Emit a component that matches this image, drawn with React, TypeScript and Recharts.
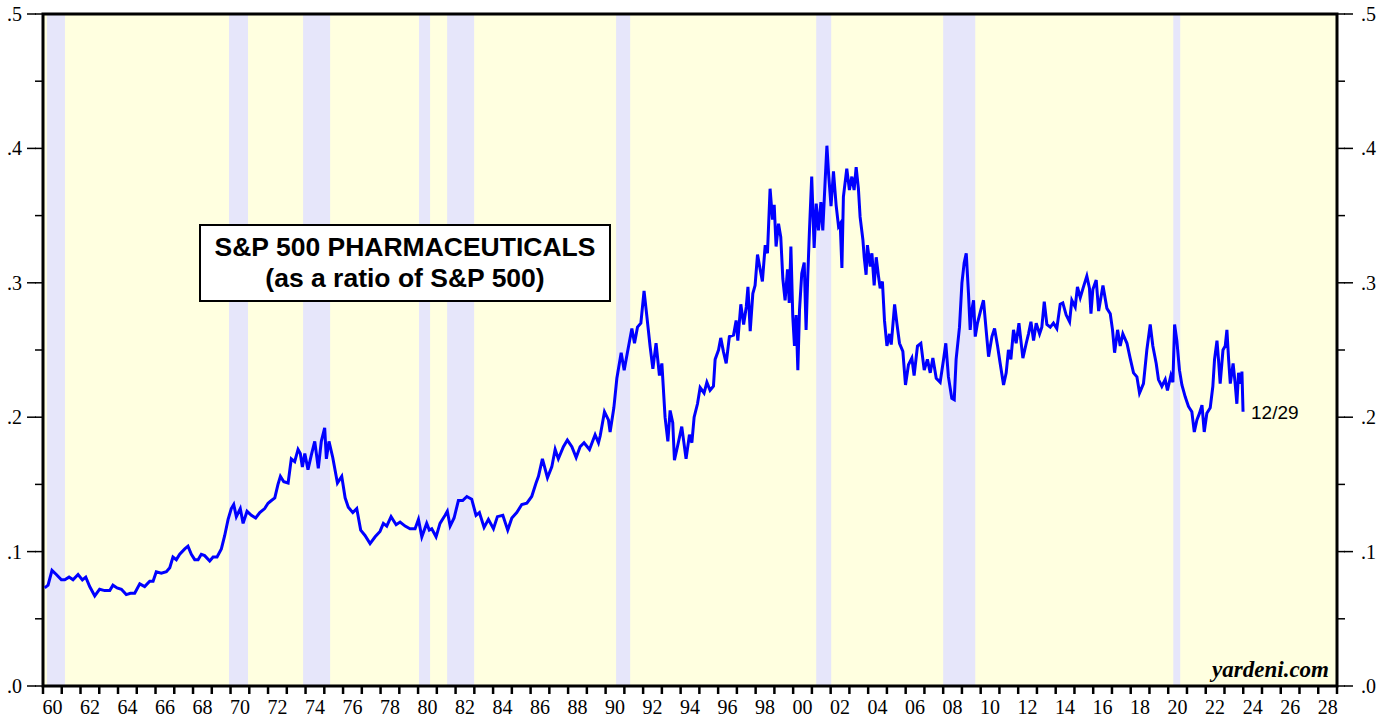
import React from 'react'
import { LineChart, Line, XAxis, YAxis, ReferenceArea, ReferenceDot } from 'recharts'

// decimal year of each reading (weekly series thinned out)
const dates = [
  1960.09, 1960.27, 1960.48, 1960.71, 1960.98, 1961.16, 1961.39, 1961.6, 1961.87, 1962.1,
  1962.28, 1962.49, 1962.76, 1963.02, 1963.29, 1963.56, 1963.73, 1963.95, 1964.18, 1964.44,
  1964.66, 1964.89, 1965.16, 1965.42, 1965.69, 1965.87, 1966.04, 1966.31, 1966.58, 1966.76,
  1966.93, 1967.11, 1967.29, 1967.56, 1967.73, 1967.91, 1968.09, 1968.27, 1968.44, 1968.62,
  1968.89, 1969.07, 1969.28, 1969.51, 1969.69, 1969.87, 1970.04, 1970.17, 1970.31, 1970.52,
  1970.67, 1970.88, 1971.11, 1971.34, 1971.56, 1971.82, 1972.0, 1972.18, 1972.36, 1972.53,
  1972.66, 1972.84, 1973.07, 1973.24, 1973.42, 1973.6, 1973.72, 1973.83, 1973.96, 1974.13,
  1974.31, 1974.49, 1974.68, 1974.84, 1975.02, 1975.11, 1975.25, 1975.45, 1975.7, 1975.93,
  1976.11, 1976.28, 1976.52, 1976.73, 1976.94, 1977.17, 1977.44, 1977.71, 1977.97, 1978.15,
  1978.33, 1978.56, 1978.83, 1979.04, 1979.31, 1979.57, 1979.84, 1980.02, 1980.2, 1980.46,
  1980.6, 1980.73, 1980.96, 1981.17, 1981.44, 1981.56, 1981.71, 1981.92, 1982.15, 1982.38,
  1982.6, 1982.86, 1983.09, 1983.27, 1983.52, 1983.75, 1984.02, 1984.23, 1984.52, 1984.78,
  1985.0, 1985.26, 1985.53, 1985.8, 1986.06, 1986.29, 1986.42, 1986.63, 1986.9, 1987.13,
  1987.31, 1987.48, 1987.75, 1987.96, 1988.2, 1988.43, 1988.64, 1988.85, 1989.14, 1989.44,
  1989.62, 1989.71, 1989.94, 1990.15, 1990.24, 1990.44, 1990.6, 1990.83, 1990.99, 1991.16,
  1991.4, 1991.54, 1991.7, 1991.88, 1992.05, 1992.2, 1992.37, 1992.52, 1992.69, 1992.87,
  1993.0, 1993.17, 1993.32, 1993.44, 1993.58, 1993.67, 1993.83, 1994.06, 1994.29, 1994.47,
  1994.6, 1994.72, 1994.9, 1995.04, 1995.25, 1995.4, 1995.57, 1995.75, 1995.84, 1996.02,
  1996.14, 1996.28, 1996.43, 1996.6, 1996.82, 1996.96, 1997.05, 1997.21, 1997.36, 1997.5,
  1997.59, 1997.71, 1997.85, 1997.97, 1998.1, 1998.24, 1998.36, 1998.51, 1998.63, 1998.77,
  1998.9, 1998.99, 1999.09, 1999.22, 1999.34, 1999.45, 1999.57, 1999.7, 1999.79, 1999.88,
  1999.98, 2000.07, 2000.16, 2000.25, 2000.34, 2000.46, 2000.59, 2000.69, 2000.78, 2000.87,
  2000.99, 2001.12, 2001.23, 2001.35, 2001.48, 2001.58, 2001.71, 2001.8, 2001.89, 2002.02,
  2002.15, 2002.29, 2002.42, 2002.51, 2002.6, 2002.68, 2002.86, 2003.0, 2003.13, 2003.25,
  2003.36, 2003.48, 2003.57, 2003.72, 2003.79, 2003.89, 2003.96, 2004.11, 2004.2, 2004.32,
  2004.43, 2004.55, 2004.64, 2004.76, 2004.87, 2005.0, 2005.14, 2005.23, 2005.41, 2005.53,
  2005.67, 2005.85, 2005.99, 2006.15, 2006.33, 2006.45, 2006.63, 2006.81, 2006.99, 2007.16,
  2007.31, 2007.45, 2007.63, 2007.84, 2008.02, 2008.14, 2008.28, 2008.46, 2008.59, 2008.69,
  2008.87, 2009.0, 2009.12, 2009.23, 2009.35, 2009.44, 2009.53, 2009.62, 2009.71, 2009.83,
  2010.01, 2010.15, 2010.29, 2010.42, 2010.6, 2010.74, 2010.9, 2011.04, 2011.22, 2011.36,
  2011.48, 2011.61, 2011.75, 2011.89, 2012.04, 2012.25, 2012.43, 2012.55, 2012.68, 2012.82,
  2012.96, 2013.14, 2013.26, 2013.39, 2013.53, 2013.71, 2013.88, 2014.06, 2014.24, 2014.38,
  2014.56, 2014.74, 2014.86, 2015.04, 2015.16, 2015.31, 2015.48, 2015.66, 2015.8, 2015.88,
  2015.98, 2016.16, 2016.29, 2016.52, 2016.73, 2016.91, 2017.03, 2017.14, 2017.3, 2017.44,
  2017.58, 2017.8, 2017.97, 2018.15, 2018.33, 2018.47, 2018.68, 2018.86, 2019.04, 2019.18,
  2019.36, 2019.48, 2019.66, 2019.84, 2019.96, 2020.14, 2020.25, 2020.34, 2020.46, 2020.6,
  2020.73, 2020.91, 2021.08, 2021.26, 2021.39, 2021.53, 2021.67, 2021.8, 2021.92, 2022.06,
  2022.24, 2022.38, 2022.47, 2022.6, 2022.68, 2022.77, 2022.92, 2023.04, 2023.13, 2023.22,
  2023.31, 2023.46, 2023.57, 2023.66, 2023.75, 2023.88, 2023.93, 2023.97, 2023.99,
]

// S&P 500 Pharmaceuticals price index / S&P 500
const ratio = [
  0.073, 0.075, 0.086, 0.083, 0.079, 0.079, 0.081, 0.079, 0.083, 0.079,
  0.081, 0.074, 0.067, 0.072, 0.071, 0.071, 0.075, 0.073, 0.072, 0.068,
  0.069, 0.069, 0.076, 0.074, 0.078, 0.078, 0.085, 0.084, 0.085, 0.088,
  0.096, 0.094, 0.098, 0.102, 0.104, 0.098, 0.094, 0.094, 0.098, 0.097,
  0.093, 0.096, 0.096, 0.102, 0.112, 0.124, 0.132, 0.135, 0.126, 0.132,
  0.121, 0.13, 0.127, 0.125, 0.129, 0.132, 0.136, 0.138, 0.14, 0.15,
  0.156, 0.152, 0.151, 0.169, 0.167, 0.176, 0.173, 0.163, 0.173, 0.161,
  0.172, 0.182, 0.162, 0.182, 0.192, 0.169, 0.182, 0.17, 0.151, 0.156,
  0.14, 0.133, 0.129, 0.132, 0.116, 0.112, 0.106, 0.111, 0.115, 0.121,
  0.119, 0.126, 0.12, 0.122, 0.119, 0.117, 0.117, 0.124, 0.111, 0.121,
  0.116, 0.117, 0.111, 0.121, 0.127, 0.13, 0.119, 0.125, 0.138, 0.138,
  0.141, 0.139, 0.127, 0.129, 0.118, 0.124, 0.117, 0.126, 0.127, 0.116,
  0.125, 0.129, 0.135, 0.136, 0.141, 0.151, 0.156, 0.169, 0.155, 0.163,
  0.176, 0.169, 0.178, 0.183, 0.178, 0.17, 0.178, 0.181, 0.176, 0.187,
  0.181, 0.186, 0.204, 0.198, 0.189, 0.207, 0.229, 0.248, 0.235, 0.248,
  0.266, 0.255, 0.267, 0.27, 0.294, 0.275, 0.253, 0.236, 0.255, 0.231,
  0.24, 0.2, 0.182, 0.205, 0.196, 0.168, 0.178, 0.193, 0.169, 0.187,
  0.181, 0.2, 0.21, 0.222, 0.218, 0.226, 0.22, 0.223, 0.243, 0.25,
  0.259, 0.249, 0.24, 0.26, 0.261, 0.272, 0.257, 0.284, 0.269, 0.282,
  0.297, 0.264, 0.292, 0.298, 0.321, 0.31, 0.301, 0.328, 0.322, 0.37,
  0.347, 0.358, 0.327, 0.344, 0.334, 0.303, 0.287, 0.31, 0.285, 0.327,
  0.275, 0.253, 0.276, 0.235, 0.28, 0.307, 0.315, 0.265, 0.305, 0.339,
  0.379, 0.326, 0.359, 0.339, 0.36, 0.339, 0.377, 0.402, 0.381, 0.357,
  0.383, 0.358, 0.342, 0.344, 0.311, 0.364, 0.385, 0.369, 0.379, 0.369,
  0.386, 0.37, 0.349, 0.332, 0.319, 0.306, 0.328, 0.312, 0.322, 0.298,
  0.319, 0.305, 0.296, 0.301, 0.272, 0.253, 0.262, 0.254, 0.284, 0.27,
  0.255, 0.249, 0.224, 0.239, 0.244, 0.231, 0.253, 0.255, 0.235, 0.243,
  0.233, 0.244, 0.229, 0.226, 0.243, 0.255, 0.23, 0.214, 0.213, 0.243,
  0.267, 0.3, 0.315, 0.322, 0.292, 0.265, 0.28, 0.287, 0.26, 0.27,
  0.28, 0.287, 0.265, 0.245, 0.26, 0.266, 0.253, 0.24, 0.224, 0.233,
  0.25, 0.243, 0.265, 0.255, 0.27, 0.244, 0.255, 0.262, 0.271, 0.257,
  0.27, 0.262, 0.267, 0.286, 0.269, 0.267, 0.27, 0.266, 0.284, 0.285,
  0.276, 0.271, 0.287, 0.282, 0.297, 0.289, 0.297, 0.305, 0.296, 0.277,
  0.295, 0.302, 0.279, 0.298, 0.281, 0.277, 0.265, 0.248, 0.265, 0.253,
  0.262, 0.255, 0.244, 0.233, 0.23, 0.218, 0.225, 0.25, 0.269, 0.253,
  0.24, 0.228, 0.223, 0.228, 0.22, 0.231, 0.226, 0.269, 0.257, 0.235,
  0.224, 0.215, 0.208, 0.204, 0.189, 0.198, 0.203, 0.209, 0.189, 0.203,
  0.207, 0.223, 0.243, 0.257, 0.243, 0.225, 0.25, 0.253, 0.265, 0.243,
  0.225, 0.24, 0.225, 0.21, 0.233, 0.225, 0.234, 0.214, 0.204,
]

// recession shading (decimal years)
const recessionStart = [1960.21, 1969.92, 1973.87, 1980.05, 1981.55, 1990.56, 2001.23, 2008.0, 2020.27]
const recessionEnd = [1961.17, 1970.93, 1975.31, 1980.64, 1982.99, 1991.31, 2002.03, 2009.71, 2020.64]

const yearTicks = [
  1960, 1961, 1962, 1963, 1964, 1965, 1966, 1967, 1968, 1969,
  1970, 1971, 1972, 1973, 1974, 1975, 1976, 1977, 1978, 1979,
  1980, 1981, 1982, 1983, 1984, 1985, 1986, 1987, 1988, 1989,
  1990, 1991, 1992, 1993, 1994, 1995, 1996, 1997, 1998, 1999,
  2000, 2001, 2002, 2003, 2004, 2005, 2006, 2007, 2008, 2009,
  2010, 2011, 2012, 2013, 2014, 2015, 2016, 2017, 2018, 2019,
  2020, 2021, 2022, 2023, 2024, 2025, 2026, 2027, 2028, 2029,
]
const ratioTicks = [0, 0.05, 0.1, 0.15, 0.2, 0.25, 0.3, 0.35, 0.4, 0.45, 0.5]

const chartData = dates.map((d, i) => ({ date: d, ratio: ratio[i] }))
const last = chartData[chartData.length - 1]

const SERIF = '"Liberation Serif", "Times New Roman", serif'
const SANS = '"Liberation Sans", Arial, sans-serif'

const isMajor = (v: number) => Math.round(v * 100) % 10 === 0
const ratioLabel = (v: number) => '.' + Math.round(v * 10)

function YearTick(props: any) {
  const { x, y, payload } = props
  const yr = payload.value
  if (yr % 2 !== 0 || yr >= 2029) return <g />
  // label sits in the middle of the year
  return (
    <text x={x + 9.4} y={y} dy="0.7em" textAnchor="middle" fontFamily={SERIF} fontSize={20} fill="#000">
      {String(yr % 100).padStart(2, '0')}
    </text>
  )
}

// recharts draws the short (8px) tick; majors get an extra 8px and a label
function LeftTick(props: any) {
  const { x, y, payload } = props
  const major = isMajor(payload.value)
  if (!major) return <g />
  return (
    <g>
      <path d={`M${x - 8},${y}H${x + 1}`} stroke="#000" strokeWidth={1.5} fill="none" />
      <text x={x - 13} y={y} dy="0.35em" textAnchor="end" fontFamily={SERIF} fontSize={20} fill="#000">
        {ratioLabel(payload.value)}
      </text>
    </g>
  )
}

function RightTick(props: any) {
  const { x, y, payload } = props
  const major = isMajor(payload.value)
  if (!major) return <g />
  return (
    <g>
      <path d={`M${x - 1},${y}H${x + 8}`} stroke="#000" strokeWidth={1.5} fill="none" />
      <text x={x + 16} y={y} dy="0.35em" textAnchor="start" fontFamily={SERIF} fontSize={20} fill="#000">
        {ratioLabel(payload.value)}
      </text>
    </g>
  )
}

export default function App() {
  return (
    <div style={{ position: 'absolute', left: 0, top: 0, width: 1391, height: 717, background: '#fff' }}>
      <LineChart width={1391} height={717} data={chartData} margin={{ top: 14, right: 0, bottom: 0, left: 0 }}>
        <XAxis
          dataKey="date"
          type="number"
          domain={[1960, 2029]}
          ticks={yearTicks}
          interval={0}
          allowDataOverflow
          height={31}
          tickSize={8}
          tickMargin={6}
          tickLine={{ stroke: '#000', strokeWidth: 2.5 }}
          axisLine={false}
          tick={<YearTick />}
        />
        <YAxis
          yAxisId="l"
          domain={[0, 0.5]}
          ticks={ratioTicks}
          interval={0}
          width={43}
          tickSize={8}
          tickMargin={0}
          tickLine={{ stroke: '#000', strokeWidth: 1.5 }}
          axisLine={false}
          tick={<LeftTick />}
        />
        <YAxis
          yAxisId="r"
          orientation="right"
          domain={[0, 0.5]}
          ticks={ratioTicks}
          interval={0}
          width={54}
          tickSize={8}
          tickMargin={0}
          tickLine={{ stroke: '#000', strokeWidth: 1.5 }}
          axisLine={false}
          tick={<RightTick />}
        />
        <ReferenceArea yAxisId="l" x1={1960} x2={2029} y1={0} y2={0.5} fill="#ffffe0" fillOpacity={1} stroke="none" />
        {recessionStart.map((s, i) => (
          <ReferenceArea
            key={s}
            yAxisId="l"
            x1={s}
            x2={recessionEnd[i]}
            y1={0}
            y2={0.5}
            fill="#e6e6fa"
            fillOpacity={1}
            stroke="none"
          />
        ))}
        {/* invisible copy so the right-hand axis gets laid out */}
        <Line
          yAxisId="r"
          dataKey="ratio"
          stroke="none"
          dot={false}
          activeDot={false}
          legendType="none"
          isAnimationActive={false}
        />
        <Line
          yAxisId="l"
          dataKey="ratio"
          type="linear"
          stroke="#0000ff"
          strokeWidth={3}
          dot={false}
          isAnimationActive={false}
        />
        <ReferenceDot
          yAxisId="l"
          x={last.date}
          y={last.ratio}
          r={0}
          fill="none"
          stroke="none"
          label={{ value: '12/29', position: 'right', offset: 8, fontFamily: SANS, fontSize: 19, fill: '#000' }}
        />
        <ReferenceArea yAxisId="l" x1={1960} x2={2029} y1={0} y2={0.5} fill="none" stroke="#000" strokeWidth={3} />
      </LineChart>

      <div
        style={{
          position: 'absolute',
          left: 199,
          top: 224,
          width: 412,
          height: 78,
          boxSizing: 'border-box',
          border: '2px solid #000',
          background: '#fff',
          display: 'flex',
          flexDirection: 'column',
          justifyContent: 'center',
          alignItems: 'center',
          fontFamily: SANS,
          fontWeight: 'bold',
          fontSize: 26.5,
          lineHeight: '31px',
          color: '#000',
        }}
      >
        <div>S&amp;P 500 PHARMACEUTICALS</div>
        <div>(as a ratio of S&amp;P 500)</div>
      </div>

      <div
        style={{
          position: 'absolute',
          right: 1391 - 1329,
          top: 657,
          fontFamily: SERIF,
          fontWeight: 'bold',
          fontStyle: 'italic',
          fontSize: 23,
          color: '#000',
        }}
      >
        yardeni.com
      </div>
    </div>
  )
}
